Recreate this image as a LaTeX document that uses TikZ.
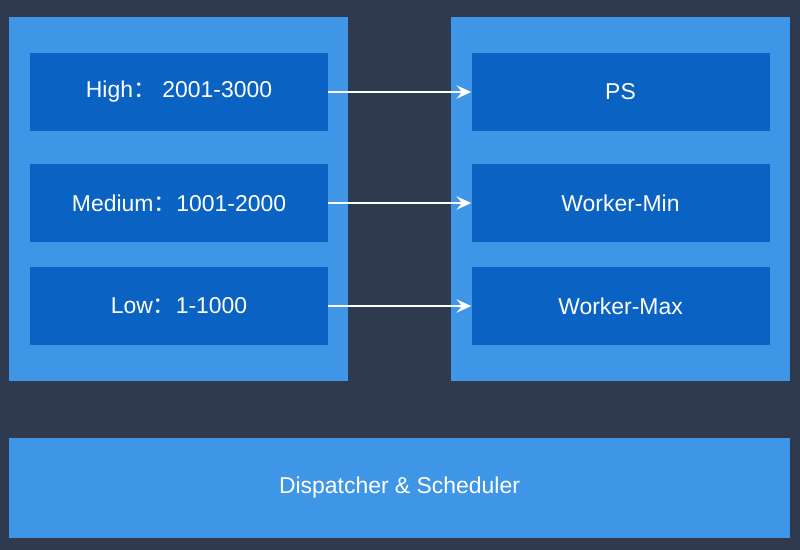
\documentclass[tikz,border=0pt]{standalone}
\usepackage{fontspec}
\setmainfont{Liberation Sans}
\newfontfamily\cjk{Noto Sans CJK SC}
\usepackage{tikz}
\usetikzlibrary{arrows.meta, positioning}
\definecolor{bgdark}{HTML}{2F3A4F}
\definecolor{panelblue}{HTML}{4096E6}
\definecolor{boxblue}{HTML}{0A63C2}
\newcommand{\fcolon}{{\cjk ：}}
\tikzset{
  panel/.style={fill=panelblue, draw=none, minimum width=339*0.75pt, minimum height=364*0.75pt, inner sep=0pt},
  level/.style={fill=boxblue, draw=none, text=white, minimum width=298*0.75pt, minimum height=78*0.75pt, inner sep=0pt,
    font=\fontsize{17.2}{20}\selectfont},
  flow/.style={white, line width=1.4pt, -{Stealth[length=11pt, width=10pt, inset=4pt]}}
}

\begin{document}
\begin{tikzpicture}[x=0.75pt, y=-0.75pt]
  \useasboundingbox[fill=bgdark] (0,0) rectangle (800,550);
  % panels
  \node[panel] (queues) at (178.5,199) {};
  \node[panel] (roles) at (620.5,199) {};
  \node[panel, minimum width=781*0.75pt, minimum height=100*0.75pt, text=white,
    font=\fontsize{17.2}{20}\selectfont] (dispatch) at (399.5,488) {Dispatcher \& Scheduler};
  % priority levels
  \node[level] (high) at (179,92) {High\fcolon\ 2001-3000};
  \node[level] (medium) at (179,203) {Medium\fcolon 1001-2000};
  \node[level] (low) at (179,306) {Low\fcolon 1-1000};
  % roles
  \node[level] (ps) at (620.5,92) {PS};
  \node[level] (wmin) at (620.5,203) {Worker-Min};
  \node[level] (wmax) at (620.5,306) {Worker-Max};
  \draw[flow] (high) -- (ps);
  \draw[flow] (medium) -- (wmin);
  \draw[flow] (low) -- (wmax);
\end{tikzpicture}
\end{document}
